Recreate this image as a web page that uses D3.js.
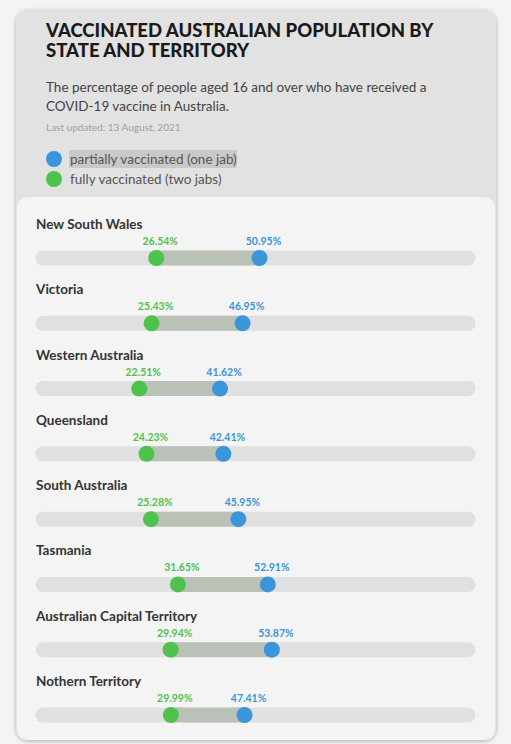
<!DOCTYPE html>
<html>
<head>
<meta charset="utf-8">
<script src="https://cdn.jsdelivr.net/npm/d3@7"></script>
<style>
  body { margin: 0; background: #f4f4f4; }
  svg { display: block; font-family: Lato, "Open Sans", sans-serif; }
</style>
</head>
<body>
<svg id="chart" width="511" height="744"></svg>
<script>
// data
const states = ['New South Wales', 'Victoria', 'Western Australia', 'Queensland',
  'South Australia', 'Tasmania', 'Australian Capital Territory', 'Nothern Territory'];
const fullyVaccinated = [26.54, 25.43, 22.51, 24.23, 25.28, 31.65, 29.94, 29.99];
const partiallyVaccinated = [50.95, 46.95, 41.62, 42.41, 45.95, 52.91, 53.87, 47.41];
const legendLabels = ['partially vaccinated (one jab)', 'fully vaccinated (two jabs)'];

const green = '#4fc24e';
const blue = '#3b95da';

const svg = d3.select('#chart');

// card + shadow
const defs = svg.append('defs');
const shadow = defs.append('filter').attr('id', 'shadow')
  .attr('x', -0.1).attr('y', -0.1).attr('width', 1.2).attr('height', 1.2);
shadow.append('feDropShadow').attr('dx', 0).attr('dy', 1)
  .attr('stdDeviation', 2).attr('flood-color', '#000').attr('flood-opacity', 0.3);

svg.append('rect')
  .attr('x', 16).attr('y', 10).attr('width', 480).attr('height', 730)
  .attr('rx', 12).attr('fill', '#e2e2e2').attr('filter', 'url(#shadow)');

svg.append('path')
  .attr('d', 'M17,740 L17,209 Q17,197 29,197 L483,197 Q495,197 495,209 L495,728 Q495,740 483,740 L29,740 Q17,740 17,728 Z')
  .attr('fill', '#f4f4f4');

// header
const title = svg.append('text')
  .attr('x', 46).attr('y', 37)
  .attr('font-size', 18.5).attr('font-weight', 900).attr('fill', '#1a1a1a');
title.append('tspan').attr('x', 46).text('VACCINATED AUSTRALIAN POPULATION BY');
title.append('tspan').attr('x', 46).attr('dy', 20).text('STATE AND TERRITORY');

const sub = svg.append('text')
  .attr('x', 46).attr('y', 92)
  .attr('font-size', 13.5).attr('fill', '#444');
sub.append('tspan').attr('x', 46).text('The percentage of people aged 16 and over who have received a');
sub.append('tspan').attr('x', 46).attr('dy', 18.5).text('COVID-19 vaccine in Australia.');

svg.append('text')
  .attr('x', 46).attr('y', 131)
  .attr('font-size', 10).attr('fill', '#a0a0a0')
  .text('Last updated: 13 August, 2021');

// legend
svg.append('rect')
  .attr('x', 69).attr('y', 150).attr('width', 168).attr('height', 18)
  .attr('fill', '#c9c9c9');

const legend = svg.selectAll('.legend')
  .data(legendLabels)
  .join('g')
  .attr('class', 'legend')
  .attr('transform', (d, i) => `translate(54,${159 + i * 20})`);

legend.append('circle')
  .attr('r', 8)
  .attr('fill', (d, i) => i === 0 ? blue : green);

legend.append('text')
  .attr('x', 16).attr('y', 4.5)
  .attr('font-size', 13.5).attr('fill', '#555')
  .text(d => d);

// rows
const x = d3.scaleLinear().domain([0, 100]).range([44, 467]);
const y = d3.scalePoint().domain(states).range([258, 715]);

const rows = svg.selectAll('.row')
  .data(states.map((s, i) => ({ state: s, full: fullyVaccinated[i], part: partiallyVaccinated[i] })))
  .join('g')
  .attr('class', 'row')
  .attr('transform', d => `translate(0,${y(d.state)})`);

rows.append('text')
  .attr('x', 36).attr('y', -29)
  .attr('font-size', 13.5).attr('font-weight', 700).attr('fill', '#333')
  .text(d => d.state);

// background track
rows.append('line')
  .attr('x1', x.range()[0] - 1).attr('x2', x.range()[1] + 1)
  .attr('stroke', '#e0e0e0').attr('stroke-width', 15).attr('stroke-linecap', 'round');

// gap between the two doses
rows.append('line')
  .attr('x1', d => x(d.full)).attr('x2', d => x(d.part))
  .attr('stroke', '#bac2b8').attr('stroke-width', 15);

rows.append('circle')
  .attr('cx', d => x(d.full)).attr('r', 8).attr('fill', green);

rows.append('circle')
  .attr('cx', d => x(d.part)).attr('r', 8).attr('fill', blue);

rows.append('text')
  .attr('x', d => x(d.full) + 4).attr('y', -13)
  .attr('text-anchor', 'middle')
  .attr('font-size', 10.5).attr('font-weight', 700).attr('fill', green)
  .text(d => d.full.toFixed(2) + '%');

rows.append('text')
  .attr('x', d => x(d.part) + 4).attr('y', -13)
  .attr('text-anchor', 'middle')
  .attr('font-size', 10.5).attr('font-weight', 700).attr('fill', blue)
  .text(d => d.part.toFixed(2) + '%');
</script>
</body>
</html>
